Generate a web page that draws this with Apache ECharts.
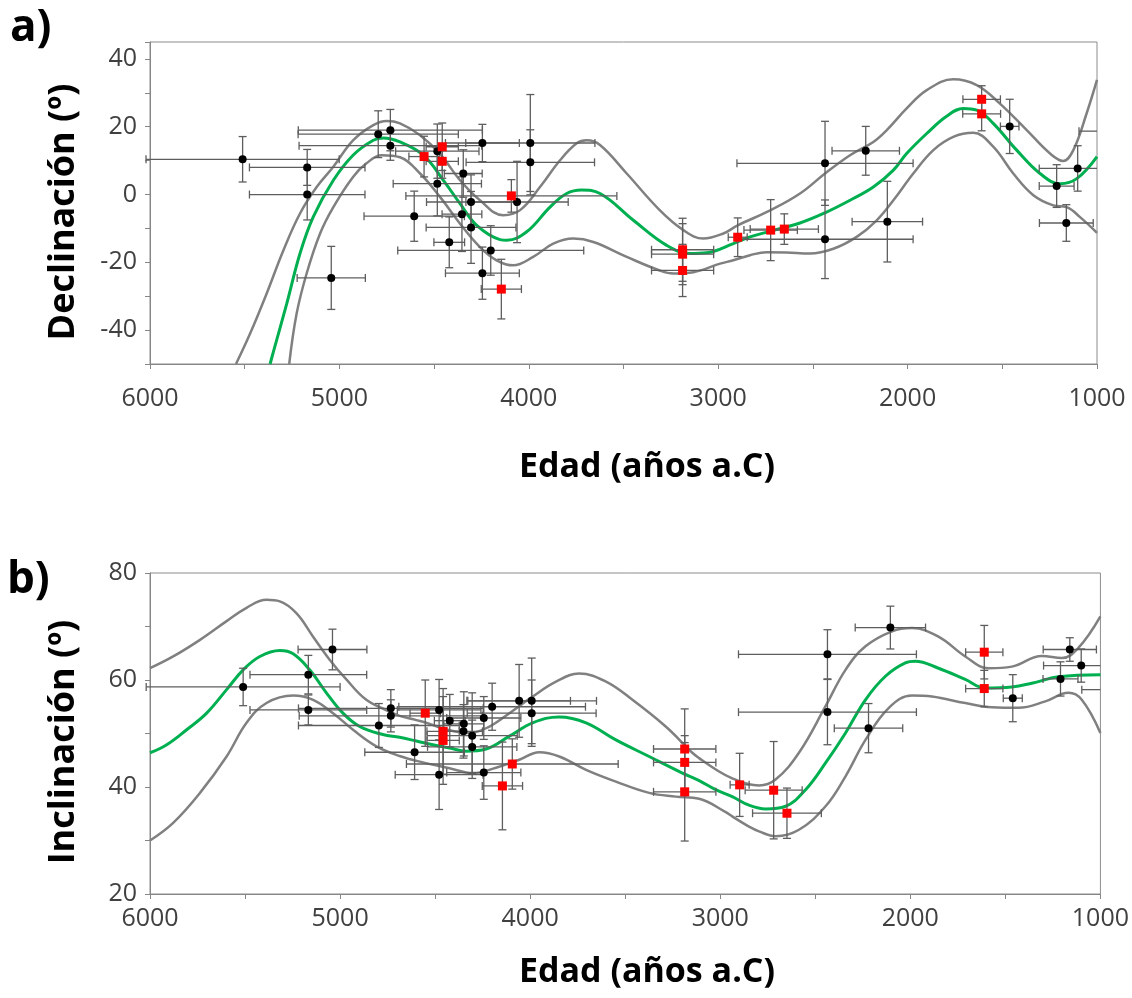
<!DOCTYPE html>
<html><head><meta charset="utf-8">
<script src="https://cdn.jsdelivr.net/npm/echarts@6/dist/echarts.min.js"></script>
<style>html,body{margin:0;padding:0;background:#fff}#c{width:1132px;height:998px}</style>
</head><body><div id="c"></div>
<script>
// ---------- Panel a: Declinación ----------
// rows: [age (años a.C), value, ageError, valueError]
const decBlack = [
  [5511,10.4,510,6.7],[5170,8.0,305,5.3],[5170,0.0,305,7.5],[5043,-24.6,180,9.3],
  [4795,17.8,423,6.9],[4731,19.0,486,6.1],[4731,14.4,482,4.3],[4483,12.8,220,8.0],
  [4245,15.2,195,5.5],[3992,15.2,341,14.3],[3992,9.5,339,9.6],[4346,6.2,100,7.0],
  [4483,3.2,233,9.5],[4605,-6.4,265,7.4],[4305,-2.2,235,8.0],[4062,-2.2,270,12.0],
  [4353,-5.8,105,11.0],[4305,-9.7,237,10.6],[4420,-14.1,81,7.5],[4201,-16.5,491,7.3],
  [4245,-23.2,195,7.7],[2436,9.2,465,12.4],[2436,-13.2,465,11.6],[2221,12.9,178,7.2],
  [2107,-8.0,186,11.9],[1461,20.1,49,8.0],[1213,2.5,92,6.3],[1102,7.7,203,6.7],
  [1162,-8.4,142,5.4],[900,18.7,195,6.0]
];
const decRed = [
  [4553,11.2,80,6.0],[4457,14.1,85,7.0],[4457,9.8,85,5.0],[4092,-0.4,557,4.8],
  [4145,-27.9,106,8.8],[2897,-12.6,50,5.7],[2723,-10.5,141,9.0],[2651,-10.2,180,4.5],
  [1609,28.1,99,4.0],[1609,23.8,100,5.0],[3188,-16.3,164,9.3],[3188,-17.6,164,9.0],
  [3188,-22.4,164,7.7]
];
const decMean = [[5366,-50],[5349,-46.5],[5278,-32.2],[5208,-17.4],[5138,-6.6],[5032,4.2],[4928,11.6],[4821,16.0],[4768,16.7],[4680,15.5],[4557,11.6],[4451,4.2],[4363,-2.7],[4275,-9.1],[4152,-13.3],[4117,-13.5],[4011,-11.0],[3888,-3.7],[3800,0.3],[3721,1.3],[3624,0.3],[3448,-7.6],[3272,-15.0],[3149,-17.4],[3061,-17.2],[2920,-14.5],[2832,-12.5],[2723,-10.8],[2568,-8.4],[2436,-5.4],[2304,-1.7],[2181,2.2],[2075,7.2],[2005,12.1],[1899,18.0],[1794,23.1],[1706,25.4],[1635,24.9],[1548,21.0],[1424,13.1],[1301,6.2],[1195,3.2],[1107,4.7],[1000,11.2]];
const decUpper = [[5546,-50],[5472,-41.1],[5384,-29.2],[5296,-16.5],[5208,-5.6],[5120,2.2],[5032,8.2],[4928,16.0],[4821,20.5],[4750,21.7],[4680,21.0],[4574,17.5],[4469,12.0],[4363,4.2],[4258,-1.7],[4135,-6.1],[4046,-4.6],[3941,2.2],[3835,10.1],[3747,15.1],[3694,16.0],[3624,14.6],[3483,6.2],[3309,-4.6],[3184,-10.5],[3079,-13.0],[2973,-11.5],[2897,-9.1],[2723,-4.6],[2568,0.3],[2436,6.2],[2304,11.6],[2181,15.5],[2110,19.0],[2005,25.4],[1899,30.8],[1759,34.0],[1635,32.3],[1514,26.9],[1371,19.0],[1248,12.1],[1178,9.9],[1125,13.1],[1055,23.9],[1000,33.8]];
const decLower = [[5265,-50],[5226,-35.2],[5173,-23.3],[5102,-11.5],[5032,-3.7],[4928,5.2],[4857,9.2],[4777,11.6],[4680,11.0],[4574,6.2],[4469,-0.7],[4363,-8.6],[4258,-15.5],[4170,-19.4],[4082,-20.9],[3977,-18.4],[3871,-14.5],[3765,-13.0],[3659,-14.0],[3483,-18.4],[3309,-22.4],[3237,-23.3],[3131,-22.9],[2990,-20.4],[2920,-19.4],[2832,-17.9],[2744,-17.0],[2639,-17.1],[2516,-17.4],[2392,-16.0],[2269,-12.5],[2163,-7.6],[2075,-1.7],[1970,6.2],[1864,13.1],[1759,17.0],[1653,18.2],[1548,14.1],[1442,6.2],[1336,-0.2],[1231,-3.2],[1160,-3.7],[1091,-6.6],[1000,-11.3]];

// ---------- Panel b: Inclinación ----------
const incBlack = [
  [5510,58.7,510,3.5],[5167,61.0,307,3.6],[5167,54.4,307,2.8],[5040,65.7,181,3.8],
  [4796,51.5,423,4.1],[4733,54.7,486,3.5],[4733,53.3,482,3.0],[4608,46.5,262,5.1],
  [4479,42.3,231,6.5],[4479,54.4,220,5.7],[4423,52.4,81,4.9],[4349,51.8,105,6.0],
  [4351,50.4,100,5.0],[4305,49.6,237,8.0],[4305,47.5,235,5.0],[4244,52.9,195,4.0],
  [4244,42.7,195,5.0],[4200,55.0,491,4.4],[4058,56.1,270,6.8],[3992,56.1,341,8.0],
  [3992,53.8,339,6.2],[2436,64.8,468,4.6],[2436,54.0,468,6.1],[2220,51.0,180,4.6],
  [2105,69.8,185,4.0],[1461,56.6,50,4.4],[1210,60.2,92,3.2],[1101,62.7,198,3.1],
  [1161,65.7,140,2.2],[900,58.2,198,3.0]
];
const incRed = [
  [4552,53.8,80,6.2],[4458,50.4,85,8.0],[4458,48.7,85,8.2],[4094,44.3,557,4.7],
  [4146,40.2,106,8.2],[3187,47.1,164,7.5],[3187,44.6,164,5.0],[3187,39.1,164,9.2],
  [2898,40.4,50,5.9],[2719,39.4,150,9.1],[2649,35.1,181,4.7],[1611,65.2,98,5.0],
  [1611,58.4,98,3.4]
];
const incMean = [[6000,46.4],[5912,47.9],[5807,50.7],[5702,53.8],[5597,58.2],[5510,61.9],[5422,64.4],[5317,65.5],[5247,64.9],[5160,61.9],[5072,57.6],[4985,53.8],[4897,51.3],[4775,49.8],[4687,49.3],[4599,48.6],[4512,47.9],[4424,47.3],[4337,46.7],[4232,47.1],[4109,49.5],[3987,52.0],[3847,53.1],[3706,52.0],[3549,48.8],[3374,45.7],[3199,42.6],[3111,41.2],[3024,39.5],[2937,38.2],[2849,36.6],[2761,35.9],[2656,36.4],[2551,39.5],[2446,44.5],[2341,50.1],[2236,56.3],[2131,60.7],[2026,63.2],[1974,63.5],[1852,62.2],[1711,60.1],[1606,58.5],[1466,58.7],[1361,59.4],[1221,60.6],[1000,61.0]];
const incUpper = [[6000,62.2],[5878,64.4],[5737,67.5],[5597,71.0],[5492,73.5],[5387,75.0],[5317,74.7],[5230,72.5],[5142,68.1],[5055,63.8],[4967,60.1],[4862,56.3],[4740,54.1],[4687,53.3],[4599,52.5],[4547,52.0],[4424,50.6],[4319,50.1],[4214,51.3],[4109,53.8],[3987,56.9],[3864,59.7],[3742,61.2],[3601,59.7],[3462,56.3],[3287,51.3],[3147,46.4],[3111,45.4],[3006,42.9],[2937,41.6],[2849,40.5],[2796,40.3],[2709,41.4],[2586,46.4],[2446,55.1],[2341,61.9],[2236,66.3],[2096,69.1],[1991,69.7],[1852,68.1],[1711,64.4],[1588,62.2],[1466,62.5],[1308,64.5],[1203,64.1],[1116,66.0],[1000,71.9]];
const incLower = [[6000,30.0],[5878,33.3],[5737,38.9],[5597,45.7],[5492,52.0],[5387,55.7],[5247,57.1],[5142,56.3],[5037,53.8],[4932,50.7],[4809,47.6],[4687,45.8],[4565,44.6],[4424,43.5],[4302,42.6],[4180,43.6],[4057,45.1],[3952,46.5],[3847,45.7],[3706,43.2],[3549,41.0],[3374,38.9],[3234,38.2],[3111,37.8],[2971,35.3],[2937,34.5],[2849,32.6],[2796,31.7],[2709,30.8],[2586,32.0],[2446,36.4],[2341,42.0],[2236,48.8],[2113,54.8],[1991,57.1],[1886,56.9],[1711,55.7],[1571,54.9],[1431,54.8],[1290,56.0],[1168,57.6],[1098,56.3],[1000,50.1]];

const xTicks = [6000,5000,4000,3000,2000,1000];
const decTicks = [-40,-20,0,20,40];
const incTicks = [20,40,60,80];

const ERR_COLOR = '#5e5e5e';
const AX_COLOR = '#868686';
const LABEL_COLOR = '#404040';
const FONT = '"Open Sans", "Noto Sans", sans-serif';

function errRender(params, api) {
  const x = api.value(0), y = api.value(1), dx = api.value(2), dy = api.value(3);
  const cs = params.coordSys;
  const right = cs.x + cs.width;
  const c = api.coord([x, y]);
  const a = api.coord([x + dx, y]);
  const b = api.coord([x - dx, y]);
  const t = api.coord([x, y + dy]);
  const bt = api.coord([x, y - dy]);
  const st = {stroke: ERR_COLOR, lineWidth: 1.3};
  const cap = 4;
  const ch = [];
  const lx = Math.min(a[0], b[0]), rx = Math.max(a[0], b[0]);
  if (lx < right) {
    ch.push({type:'line', shape:{x1:lx, y1:c[1], x2:Math.min(rx, right), y2:c[1]}, style:st});
    ch.push({type:'line', shape:{x1:lx, y1:c[1]-cap, x2:lx, y2:c[1]+cap}, style:st});
    if (rx <= right) ch.push({type:'line', shape:{x1:rx, y1:c[1]-cap, x2:rx, y2:c[1]+cap}, style:st});
  }
  if (c[0] <= right + 0.5) {
    ch.push({type:'line', shape:{x1:c[0], y1:t[1], x2:c[0], y2:bt[1]}, style:st});
    ch.push({type:'line', shape:{x1:c[0]-cap, y1:t[1], x2:c[0]+cap, y2:t[1]}, style:st});
    ch.push({type:'line', shape:{x1:c[0]-cap, y1:bt[1], x2:c[0]+cap, y2:bt[1]}, style:st});
  }
  return {type:'group', children: ch};
}

function xAxisCfg(gi, margin) {
  return {gridIndex: gi, type:'value', min:1000, max:6000, interval:500, inverse:true,
    axisLine:{show:true, onZero:false, lineStyle:{color:AX_COLOR, width:1}},
    axisTick:{show:true, length:5, lineStyle:{color:AX_COLOR}},
    splitLine:{show:false},
    axisLabel:{formatter: v => xTicks.includes(v) ? String(v) : '', fontSize:25, color:LABEL_COLOR, fontFamily:FONT, margin: margin}};
}
function yAxisCfg(gi, min, max, ticks) {
  return {gridIndex: gi, type:'value', min:min, max:max, interval:10,
    axisLine:{show:true, onZero:false, lineStyle:{color:AX_COLOR, width:1}},
    axisTick:{show:true, length:5, lineStyle:{color:AX_COLOR}},
    splitLine:{show:false},
    axisLabel:{formatter: v => ticks.includes(v) ? String(v) : '', fontSize:25, color:LABEL_COLOR, fontFamily:FONT, margin:13}};
}
function curve(gi, data, color, width) {
  return {type:'line', xAxisIndex:gi, yAxisIndex:gi, data:data, showSymbol:false, smooth:0.4,
    lineStyle:{color:color, width:width}, z:2, silent:true, animation:false};
}
function errs(gi, data) {
  return {type:'custom', xAxisIndex:gi, yAxisIndex:gi, data:data, renderItem:errRender, clip:false,
    encode:{x:0, y:1}, z:3, silent:true, animation:false};
}
function pts(gi, data, symbol, size, color) {
  return {type:'scatter', xAxisIndex:gi, yAxisIndex:gi, data:data.map(r => [r[0], r[1]]), symbol:symbol,
    symbolSize:size, itemStyle:{color:color, opacity:1}, z:4, clip:true, silent:true, animation:false};
}

const chart = echarts.init(document.getElementById('c'), null, {renderer:'canvas'});
chart.setOption({
  animation:false,
  backgroundColor:'#fff',
  grid:[
    {left:150, top:42, width:947, height:322, show:true, borderColor:'#8c8c8c', borderWidth:1, backgroundColor:'transparent'},
    {left:150, top:573, width:952, height:321, show:true, borderColor:'#8c8c8c', borderWidth:1, backgroundColor:'transparent'}
  ],
  xAxis:[xAxisCfg(0, 22), xAxisCfg(1, 12)],
  yAxis:[yAxisCfg(0, -50, 45, decTicks), yAxisCfg(1, 20, 80, incTicks)],
  series:[
    curve(0, decUpper, '#808080', 2.5), curve(0, decLower, '#808080', 2.5), curve(0, decMean, '#00b050', 3),
    errs(0, decBlack), errs(0, decRed),
    pts(0, decBlack, 'circle', 8, '#000'), pts(0, decRed, 'rect', 9, '#ff0000'),
    curve(1, incUpper, '#808080', 2.5), curve(1, incLower, '#808080', 2.5), curve(1, incMean, '#00b050', 3),
    errs(1, incBlack), errs(1, incRed),
    pts(1, incBlack, 'circle', 8, '#000'), pts(1, incRed, 'rect', 9, '#ff0000')
  ],
  graphic:[
    {type:'text', left:10, top:6, style:{text:'a)', font:'bold 44px ' + FONT, fill:'#000'}},
    {type:'text', left:7, top:558, style:{text:'b)', font:'bold 44px ' + FONT, fill:'#000'}},
    {type:'text', x:64, y:212, rotation:Math.PI/2, style:{text:'Declinación (º)', font:'bold 36px ' + FONT, fill:'#000', align:'center', verticalAlign:'middle'}},
    {type:'text', x:64, y:742, rotation:Math.PI/2, style:{text:'Inclinación (º)', font:'bold 36px ' + FONT, fill:'#000', align:'center', verticalAlign:'middle'}},
    {type:'text', x:647, y:467, style:{text:'Edad (años a.C)', font:'bold 34px ' + FONT, fill:'#000', align:'center', verticalAlign:'middle'}},
    {type:'text', x:647, y:972, style:{text:'Edad (años a.C)', font:'bold 34px ' + FONT, fill:'#000', align:'center', verticalAlign:'middle'}}
  ]
});
</script>
</body></html>
